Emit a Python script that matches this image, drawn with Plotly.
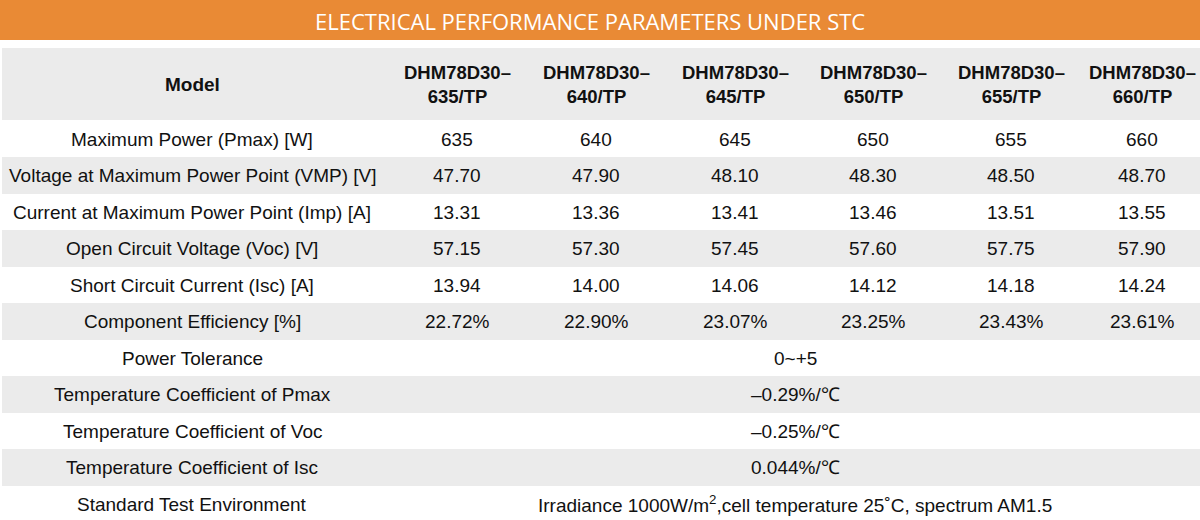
import plotly.graph_objects as go

# ---------------- data ----------------
title = "ELECTRICAL PERFORMANCE PARAMETERS UNDER STC"
header_label = "Model"
models = ["DHM78D30–635/TP", "DHM78D30–640/TP", "DHM78D30–645/TP",
          "DHM78D30–650/TP", "DHM78D30–655/TP", "DHM78D30–660/TP"]

row_labels = ["Maximum Power (Pmax) [W]",
              "Voltage at Maximum Power Point (VMP) [V]",
              "Current at Maximum Power Point (Imp) [A]",
              "Open Circuit Voltage (Voc) [V]",
              "Short Circuit Current (Isc) [A]",
              "Component Efficiency [%]"]
pmax = [635, 640, 645, 650, 655, 660]
vmp = [47.70, 47.90, 48.10, 48.30, 48.50, 48.70]
imp = [13.31, 13.36, 13.41, 13.46, 13.51, 13.55]
voc = [57.15, 57.30, 57.45, 57.60, 57.75, 57.90]
isc = [13.94, 14.00, 14.06, 14.12, 14.18, 14.24]
eff = [22.72, 22.90, 23.07, 23.25, 23.43, 23.61]

common_labels = ["Power Tolerance",
                 "Temperature Coefficient of Pmax",
                 "Temperature Coefficient of Voc",
                 "Temperature Coefficient of Isc",
                 "Standard Test Environment"]
common_values = ["0~+5", "–0.29%/℃", "–0.25%/℃", "0.044%/℃",
                 "Irradiance 1000W/㎡,cell temperature 25˚C, spectrum AM1.5"]

# ---------------- layout constants ----------------
W, H = 1200, 520
ORANGE = "#E98A35"
GRAY = "#EBEBEB"
TXT = "#111111"
FONT = "Liberation Sans, Arial, sans-serif"
FS = 19

label_x = 192
col_x = [457, 596, 735, 873, 1011, 1142]
span_x = 795
header_y = 84
first_row_y = 139
row_step = 36.5
half = 18.4

# formatted rows
value_rows = [
    [f"{v}" for v in pmax],
    [f"{v:.2f}" for v in vmp],
    [f"{v:.2f}" for v in imp],
    [f"{v:.2f}" for v in voc],
    [f"{v:.2f}" for v in isc],
    [f"{v:.2f}%" for v in eff],
]


def render(s):
    return s.replace("㎡", "m<sup>2</sup>")


shapes = []
annotations = []

# title band
shapes.append(dict(type="rect", xref="x", yref="y", x0=0, x1=W, y0=0, y1=40,
                   fillcolor=ORANGE, line_width=0, layer="below"))
annotations.append(dict(x=590, y=21, xref="x", yref="y", text=title, showarrow=False,
                        font=dict(family="Open Sans, sans-serif", size=22, color="white"),
                        xanchor="center", yanchor="middle"))

# header band
shapes.append(dict(type="rect", xref="x", yref="y", x0=2, x1=W, y0=48, y1=120,
                   fillcolor=GRAY, line_width=0, layer="below"))
annotations.append(dict(x=label_x, y=header_y, xref="x", yref="y", text=f"<b>{header_label}</b>",
                        showarrow=False, font=dict(family=FONT, size=FS, color=TXT),
                        xanchor="center", yanchor="middle"))
for cx, m in zip(col_x, models):
    annotations.append(dict(x=cx, y=header_y, xref="x", yref="y",
                            text="<b>" + m.replace("–", "–<br>") + "</b>",
                            showarrow=False, font=dict(family=FONT, size=18.5, color=TXT),
                            xanchor="center", yanchor="middle"))

all_labels = row_labels + common_labels
for i, lab in enumerate(all_labels):
    yc = first_row_y + i * row_step
    if i % 2 == 1:
        shapes.append(dict(type="rect", xref="x", yref="y", x0=2, x1=W,
                           y0=yc - half, y1=yc + half,
                           fillcolor=GRAY, line_width=0, layer="below"))
    annotations.append(dict(x=label_x, y=yc, xref="x", yref="y", text=lab, showarrow=False,
                            font=dict(family=FONT, size=FS, color=TXT),
                            xanchor="center", yanchor="middle"))
    if i < len(row_labels):
        for cx, val in zip(col_x, value_rows[i]):
            annotations.append(dict(x=cx, y=yc, xref="x", yref="y", text=val, showarrow=False,
                                    font=dict(family=FONT, size=FS, color=TXT),
                                    xanchor="center", yanchor="middle"))
    else:
        annotations.append(dict(x=span_x, y=yc, xref="x", yref="y",
                                text=render(common_values[i - len(row_labels)]), showarrow=False,
                                font=dict(family=FONT, size=FS, color=TXT),
                                xanchor="center", yanchor="middle"))

fig = go.Figure()
fig.update_layout(
    width=W, height=H,
    margin=dict(l=0, r=0, t=0, b=0),
    paper_bgcolor="white", plot_bgcolor="white",
    xaxis=dict(range=[0, W], visible=False, fixedrange=True),
    yaxis=dict(range=[H, 0], visible=False, fixedrange=True),
    shapes=shapes, annotations=annotations, showlegend=False,
)
fig.write_html("out.html", config={"displayModeBar": False},
               post_script="document.body.style.margin='0px';document.body.style.overflow='hidden';")
